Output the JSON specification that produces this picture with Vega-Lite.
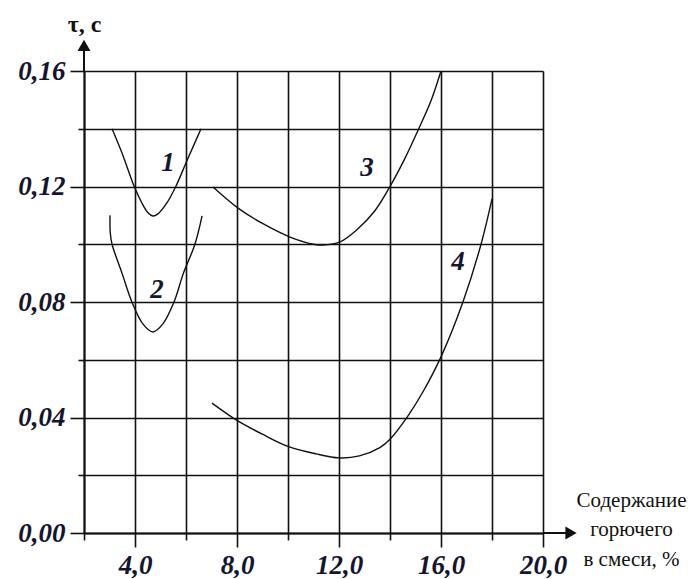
{
  "$schema": "https://vega.github.io/schema/vega-lite/v6.json",
  "width": 459,
  "height": 462,
  "autosize": {"type": "none"},
  "padding": {"left": 84, "top": 71, "right": 155, "bottom": 46},
  "background": "white",
  "config": {"view": {"stroke": null}, "font": "Liberation Serif"},
  "datasets": {
    "curves": [
      {"curve": "1", "x": 3.1, "y": 0.14},
      {"curve": "1", "x": 3.49, "y": 0.1316},
      {"curve": "1", "x": 3.97, "y": 0.12},
      {"curve": "1", "x": 4.27, "y": 0.1143},
      {"curve": "1", "x": 4.5, "y": 0.111},
      {"curve": "1", "x": 4.7, "y": 0.1098},
      {"curve": "1", "x": 4.9, "y": 0.1105},
      {"curve": "1", "x": 5.25, "y": 0.1143},
      {"curve": "1", "x": 5.6, "y": 0.12},
      {"curve": "1", "x": 6.04, "y": 0.129},
      {"curve": "1", "x": 6.59, "y": 0.14},
      {"curve": "2", "x": 3.02, "y": 0.11},
      {"curve": "2", "x": 3.03, "y": 0.104},
      {"curve": "2", "x": 3.1, "y": 0.1},
      {"curve": "2", "x": 3.49, "y": 0.09},
      {"curve": "2", "x": 3.88, "y": 0.08},
      {"curve": "2", "x": 4.3, "y": 0.0725},
      {"curve": "2", "x": 4.7, "y": 0.0696},
      {"curve": "2", "x": 5.1, "y": 0.0725},
      {"curve": "2", "x": 5.53, "y": 0.08},
      {"curve": "2", "x": 5.9, "y": 0.09},
      {"curve": "2", "x": 6.35, "y": 0.1},
      {"curve": "2", "x": 6.63, "y": 0.1098},
      {"curve": "3", "x": 7.06, "y": 0.1198},
      {"curve": "3", "x": 8.04, "y": 0.1125},
      {"curve": "3", "x": 9.0, "y": 0.1072},
      {"curve": "3", "x": 10.08, "y": 0.1025},
      {"curve": "3", "x": 11.0, "y": 0.1},
      {"curve": "3", "x": 11.37, "y": 0.0997},
      {"curve": "3", "x": 12.04, "y": 0.1008},
      {"curve": "3", "x": 12.7, "y": 0.105},
      {"curve": "3", "x": 13.4, "y": 0.1115},
      {"curve": "3", "x": 14.0, "y": 0.12},
      {"curve": "3", "x": 14.6, "y": 0.13},
      {"curve": "3", "x": 15.1, "y": 0.1395},
      {"curve": "3", "x": 15.6, "y": 0.1495},
      {"curve": "3", "x": 16.0, "y": 0.16},
      {"curve": "4", "x": 7.02, "y": 0.045},
      {"curve": "4", "x": 8.0, "y": 0.039},
      {"curve": "4", "x": 9.0, "y": 0.0342},
      {"curve": "4", "x": 10.0, "y": 0.0300},
      {"curve": "4", "x": 11.1, "y": 0.0274},
      {"curve": "4", "x": 12.0, "y": 0.026},
      {"curve": "4", "x": 12.8, "y": 0.0267},
      {"curve": "4", "x": 13.6, "y": 0.0296},
      {"curve": "4", "x": 14.0, "y": 0.0325},
      {"curve": "4", "x": 14.7, "y": 0.0405},
      {"curve": "4", "x": 15.3, "y": 0.049},
      {"curve": "4", "x": 16.0, "y": 0.061},
      {"curve": "4", "x": 16.86, "y": 0.08},
      {"curve": "4", "x": 17.57, "y": 0.1},
      {"curve": "4", "x": 18.0, "y": 0.1157}
    ],
    "labels": [
      {"label": "1", "x": 5.29, "y": 0.128},
      {"label": "2", "x": 4.86, "y": 0.084},
      {"label": "3", "x": 13.1, "y": 0.1264},
      {"label": "4", "x": 16.67, "y": 0.0939}
    ]
  },
  "layer": [
    {
      "data": {"name": "curves"},
      "mark": {"type": "line", "color": "#111", "strokeWidth": 1.4, "interpolate": "catmull-rom"},
      "encoding": {
        "x": {
          "field": "x", "type": "quantitative",
          "scale": {"domain": [2, 20], "nice": false, "zero": false},
          "axis": {
            "values": [2, 4, 6, 8, 10, 12, 14, 16, 18, 20],
            "grid": true, "gridColor": "#111", "gridWidth": 1.6, "gridOpacity": 1,
            "domainColor": "#111", "domainWidth": 2,
            "tickColor": "#111", "tickWidth": 1.6,
            "tickSize": {"condition": {"test": "datum.value % 4 === 0", "value": 14}, "value": 7},
            "labelExpr": "datum.value % 4 === 0 ? replace(format(datum.value, '.1f'), '.', ',') : ''",
            "labelFont": "Liberation Serif", "labelFontSize": 27, "labelFontStyle": "italic", "labelFontWeight": "bold",
            "labelColor": "#15152e", "labelPadding": 5, "labelFlush": false, "labelOverlap": false, "labelBound": false,
            "title": ["Содержание", "горючего", "в смеси, %"],
            "titleFont": "Liberation Serif", "titleFontSize": 21, "titleFontWeight": "normal", "titleColor": "#111",
            "titleX": 547, "titleY": -27, "titleAlign": "center", "titleBaseline": "alphabetic", "titleLineHeight": 29.5
          }
        },
        "y": {
          "field": "y", "type": "quantitative",
          "scale": {"domain": [0, 0.16], "nice": false, "zero": false},
          "axis": {
            "values": [0, 0.02, 0.04, 0.06, 0.08, 0.1, 0.12, 0.14, 0.16],
            "grid": true, "gridColor": "#111", "gridWidth": 1.6, "gridOpacity": 1,
            "domainColor": "#111", "domainWidth": 2,
            "tickColor": "#111", "tickWidth": 1.6,
            "tickSize": {"condition": {"test": "round(datum.value * 100) % 4 === 0", "value": 14}, "value": 6},
            "labelExpr": "round(datum.value * 100) % 4 === 0 ? replace(format(datum.value, '.2f'), '.', ',') : ''",
            "labelFont": "Liberation Serif", "labelFontSize": 27, "labelFontStyle": "italic", "labelFontWeight": "bold",
            "labelColor": "#15152e", "labelPadding": 5, "labelFlush": false, "labelOverlap": false, "labelBound": false,
            "title": "τ, с",
            "titleFont": "Liberation Serif", "titleFontSize": 24, "titleFontWeight": "bold", "titleColor": "#111",
            "titleAngle": 0, "titleX": 0, "titleY": -40, "titleAlign": "center", "titleBaseline": "alphabetic"
          }
        },
        "detail": {"field": "curve"}
      }
    },
    {
      "data": {"name": "labels"},
      "mark": {"type": "text", "font": "Liberation Serif", "fontSize": 27, "fontStyle": "italic", "fontWeight": "bold", "color": "#15152e"},
      "encoding": {
        "x": {"field": "x", "type": "quantitative"},
        "y": {"field": "y", "type": "quantitative"},
        "text": {"field": "label"}
      }
    },
    {
      "data": {"values": [{}]},
      "mark": {"type": "rule", "color": "#111", "strokeWidth": 2},
      "encoding": {
        "x": {"datum": 2, "type": "quantitative"},
        "y": {"datum": 0.16, "type": "quantitative"},
        "y2": {"datum": 0.1685}
      }
    },
    {
      "data": {"values": [{}]},
      "mark": {"type": "point", "shape": "triangle-up", "filled": true, "color": "#111", "size": 170, "opacity": 1},
      "encoding": {
        "x": {"datum": 2, "type": "quantitative"},
        "y": {"datum": 0.1689, "type": "quantitative"}
      }
    },
    {
      "data": {"values": [{}]},
      "mark": {"type": "rule", "color": "#111", "strokeWidth": 2},
      "encoding": {
        "x": {"datum": 20, "type": "quantitative"},
        "x2": {"datum": 21.0},
        "y": {"datum": 0, "type": "quantitative"}
      }
    },
    {
      "data": {"values": [{}]},
      "mark": {"type": "point", "shape": "triangle-right", "filled": true, "color": "#111", "size": 170, "opacity": 1},
      "encoding": {
        "x": {"datum": 21.1, "type": "quantitative"},
        "y": {"datum": 0, "type": "quantitative"}
      }
    }
  ]
}
